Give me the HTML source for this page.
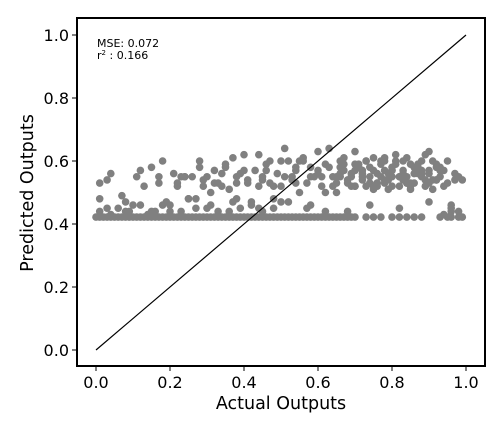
<!DOCTYPE html>
<html><head><meta charset="utf-8"><style>
body{margin:0;background:#fff;}
svg{display:block;font-family:"DejaVu Sans","Liberation Sans",sans-serif;}
</style></head><body>
<svg id="chart" width="504" height="432">
<rect x="77" y="18" width="408" height="348" fill="#fff" stroke="#000" stroke-width="2"/>
<g id="pts"></g>
<g id="ax"></g>
<text x="97" y="47" font-size="11">MSE: 0.072</text>
<text x="97" y="59" font-size="11">r<tspan dy="-4" font-size="7">2</tspan><tspan dy="4"> : 0.166</tspan></text>
<text x="281" y="409" font-size="17.5" text-anchor="middle">Actual Outputs</text>
<text transform="translate(33,193) rotate(-90)" font-size="17.5" text-anchor="middle">Predicted Outputs</text>
</svg>
<script>
const xTicks=[0,0.2,0.4,0.6,0.8,1.0];
const yTicks=[0,0.2,0.4,0.6,0.8,1.0];
const tickLabels=["0.0","0.2","0.4","0.6","0.8","1.0"];
const baseX=[0,0.01,0.02,0.03,0.04,0.05,0.06,0.07,0.08,0.09,0.1,0.11,0.12,0.13,0.14,0.15,0.16,0.17,0.18,0.19,0.2,0.21,0.22,0.23,0.24,0.25,0.26,0.27,0.28,0.29,0.3,0.31,0.32,0.33,0.34,0.35,0.36,0.37,0.38,0.39,0.4,0.41,0.42,0.43,0.44,0.45,0.46,0.47,0.48,0.49,0.5,0.51,0.52,0.53,0.54,0.55,0.56,0.57,0.58,0.59,0.6,0.61,0.62,0.63,0.64,0.65,0.66,0.67,0.68,0.69,0.7,0.73,0.75,0.77,0.8,0.82,0.84,0.86,0.88,0.93,0.95,0.96,0.98,0.99];
const baseY=0.422;
const ptX=[0.01,0.01,0.01,0.03,0.03,0.04,0.07,0.08,0.09,0.11,0.12,0.13,0.14,0.15,0.16,0.17,0.18,0.19,0.2,0.21,0.22,0.23,0.24,0.25,0.26,0.27,0.28,0.29,0.3,0.31,0.32,0.33,0.34,0.35,0.36,0.37,0.38,0.39,0.4,0.41,0.42,0.43,0.44,0.45,0.46,0.47,0.48,0.49,0.5,0.51,0.52,0.53,0.54,0.55,0.56,0.57,0.58,0.59,0.6,0.61,0.62,0.63,0.64,0.65,0.66,0.67,0.68,0.69,0.7,0.71,0.72,0.73,0.74,0.75,0.76,0.77,0.78,0.79,0.8,0.81,0.82,0.83,0.84,0.85,0.86,0.87,0.88,0.89,0.9,0.91,0.92,0.93,0.94,0.95,0.96,0.97,0.98,0.99,
0.04,0.1,0.15,0.2,0.25,0.3,0.33,0.36,0.39,0.42,0.45,0.48,0.5,0.53,0.55,0.57,0.6,0.62,0.64,0.66,0.68,0.7,0.72,0.74,0.76,0.78,0.8,0.82,0.84,0.86,0.88,0.9,0.92,0.94,0.96,0.98,
0.06,0.12,0.18,0.24,0.28,0.32,0.37,0.41,0.46,0.51,0.56,0.61,0.63,0.67,0.69,0.71,0.73,0.75,0.77,0.79,0.81,0.83,0.85,0.87,0.89,0.91,0.93,0.95,0.97,
0.35,0.38,0.44,0.52,0.58,0.65,0.7,0.76,0.8,0.84,0.88,0.9,0.08,0.22,0.27,0.47,0.54,0.6,0.66,0.74,0.78,0.82,0.86,0.92,0.96,
0.66,0.68,0.7,0.72,0.74,0.76,0.78,0.8,0.82,0.84,0.86,0.88,0.9,0.92,0.94,0.67,0.69,0.71,0.73,0.75,0.77,0.79,0.81,0.83,0.85,0.87,0.89,0.91,0.93,0.65,0.7,0.75,0.8,0.85,0.9,0.72,0.78,0.83,0.88,0.62,0.58,0.54,0.5,0.45,0.4,0.34,0.29,0.23,0.17,0.44,0.48,0.38,0.31];
const ptY=[0.53,0.48,0.44,0.54,0.45,0.56,0.49,0.47,0.44,0.55,0.46,0.52,0.43,0.58,0.44,0.53,0.46,0.47,0.44,0.56,0.52,0.44,0.55,0.48,0.55,0.45,0.58,0.52,0.55,0.46,0.57,0.44,0.52,0.59,0.51,0.47,0.55,0.45,0.62,0.53,0.47,0.57,0.52,0.44,0.59,0.53,0.45,0.56,0.52,0.64,0.47,0.55,0.57,0.5,0.6,0.53,0.46,0.55,0.57,0.52,0.44,0.58,0.55,0.5,0.6,0.57,0.53,0.55,0.52,0.58,0.54,0.6,0.55,0.57,0.52,0.59,0.53,0.56,0.55,0.6,0.52,0.57,0.55,0.59,0.53,0.56,0.6,0.54,0.57,0.51,0.58,0.55,0.43,0.6,0.45,0.56,0.44,0.54,
0.43,0.46,0.44,0.46,0.48,0.45,0.53,0.44,0.56,0.46,0.55,0.52,0.47,0.54,0.6,0.45,0.56,0.5,0.52,0.58,0.44,0.59,0.57,0.46,0.53,0.6,0.57,0.45,0.53,0.58,0.56,0.47,0.59,0.52,0.46,0.55,
0.45,0.57,0.6,0.55,0.6,0.53,0.61,0.54,0.57,0.55,0.61,0.55,0.64,0.61,0.56,0.59,0.52,0.61,0.55,0.54,0.62,0.56,0.53,0.58,0.62,0.54,0.57,0.53,0.54,
0.58,0.53,0.62,0.6,0.58,0.55,0.63,0.53,0.58,0.61,0.57,0.63,0.44,0.53,0.48,0.6,0.53,0.63,0.55,0.58,0.61,0.55,0.56,0.54,0.44,
0.56,0.54,0.57,0.55,0.53,0.56,0.54,0.57,0.55,0.53,0.58,0.55,0.56,0.54,0.57,0.59,0.52,0.58,0.6,0.52,0.6,0.51,0.59,0.6,0.52,0.59,0.52,0.6,0.58,0.53,0.52,0.51,0.52,0.51,0.53,0.56,0.57,0.54,0.56,0.59,0.55,0.58,0.6,0.54,0.57,0.56,0.54,0.55,0.55,0.45,0.48,0.48,0.5];
const NS="http://www.w3.org/2000/svg";
const sx=v=>96+v*370, sy=v=>350-v*315;
const pts=document.getElementById('pts'), ax=document.getElementById('ax');
function dot(x,y){const c=document.createElementNS(NS,'circle');c.setAttribute('cx',sx(x));c.setAttribute('cy',sy(y));c.setAttribute('r',3.8);c.setAttribute('fill','#808080');


pts.appendChild(c);}
baseX.forEach(x=>dot(x,baseY));
ptX.forEach((x,i)=>dot(x,ptY[i]));
const ln=document.createElementNS(NS,'line');ln.setAttribute('x1',sx(0));ln.setAttribute('y1',sy(0));ln.setAttribute('x2',sx(1));ln.setAttribute('y2',sy(1));ln.setAttribute('stroke','#000');ln.setAttribute('stroke-width','1.2');


pts.appendChild(ln);
xTicks.forEach((v,i)=>{const t=document.createElementNS(NS,'line');t.setAttribute('x1',sx(v));t.setAttribute('x2',sx(v));t.setAttribute('y1',366);t.setAttribute('y2',371);t.setAttribute('stroke','#000');


ax.appendChild(t);
const l=document.createElementNS(NS,'text');l.setAttribute('x',sx(v));l.setAttribute('y',388);l.setAttribute('font-size','16');l.setAttribute('text-anchor','middle');l.textContent=tickLabels[i];


ax.appendChild(l);});
yTicks.forEach((v,i)=>{const t=document.createElementNS(NS,'line');t.setAttribute('x1',72);t.setAttribute('x2',77);t.setAttribute('y1',sy(v));t.setAttribute('y2',sy(v));t.setAttribute('stroke','#000');


ax.appendChild(t);
const l=document.createElementNS(NS,'text');l.setAttribute('x',69);l.setAttribute('y',sy(v)+6);l.setAttribute('font-size','16');l.setAttribute('text-anchor','end');l.textContent=tickLabels[i];


ax.appendChild(l);});
</script>
</body></html>
